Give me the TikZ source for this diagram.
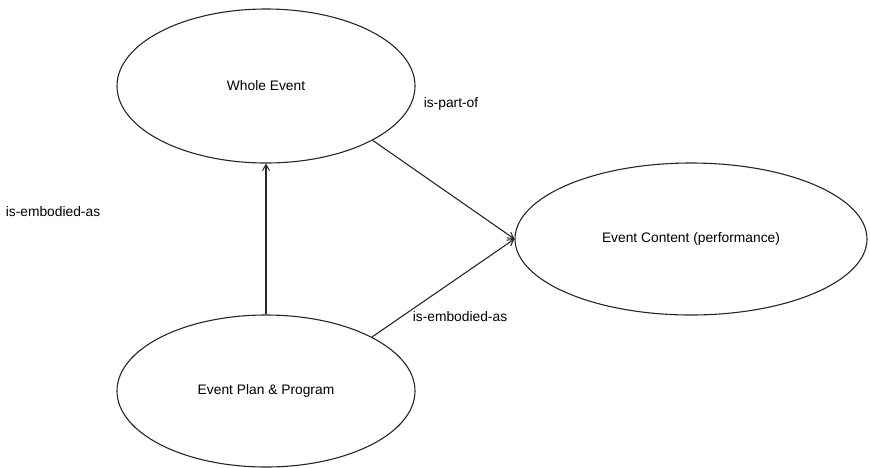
\documentclass[tikz,border=0pt]{standalone}
\usepackage{fontspec}
\setmainfont{Liberation Sans}
\usetikzlibrary{shapes.geometric,arrows.meta}
\begin{document}
\begin{tikzpicture}[x=1pt,y=-1pt,
  ev/.style={draw=black!85,ellipse,line width=1.1pt,inner sep=0pt,font=\fontsize{13.8}{16}\selectfont},
  lbl/.style={font=\fontsize{13.8}{16}\selectfont,inner sep=0pt},
  conn/.style={draw=black!85,line width=1.1pt,-{Straight Barb[length=6pt,width=7pt,line width=1pt]}}]
  \useasboundingbox (0,0) rectangle (870,467);
  \node[ev,minimum width=298pt,minimum height=154pt] (whole) at (266,86) {Whole Event};
  \node[ev,minimum width=352pt,minimum height=152pt] (content) at (691,239) {Event Content (performance)};
  \node[ev,minimum width=298pt,minimum height=152pt] (plan) at (266,391) {Event Plan \& Program};
  \draw[conn] (plan.north) -- (whole.south);
  \draw[conn] (whole.-27.4) -- (content.west);
  \draw[conn] (plan.27) -- (content.west);
  \node[lbl] (l1) at (451,104) {is-part-of};
  \node[lbl] (l2) at (460,317) {is-embodied-as};
  \node[lbl] (l3) at (53,212) {is-embodied-as};
\end{tikzpicture}
\end{document}
